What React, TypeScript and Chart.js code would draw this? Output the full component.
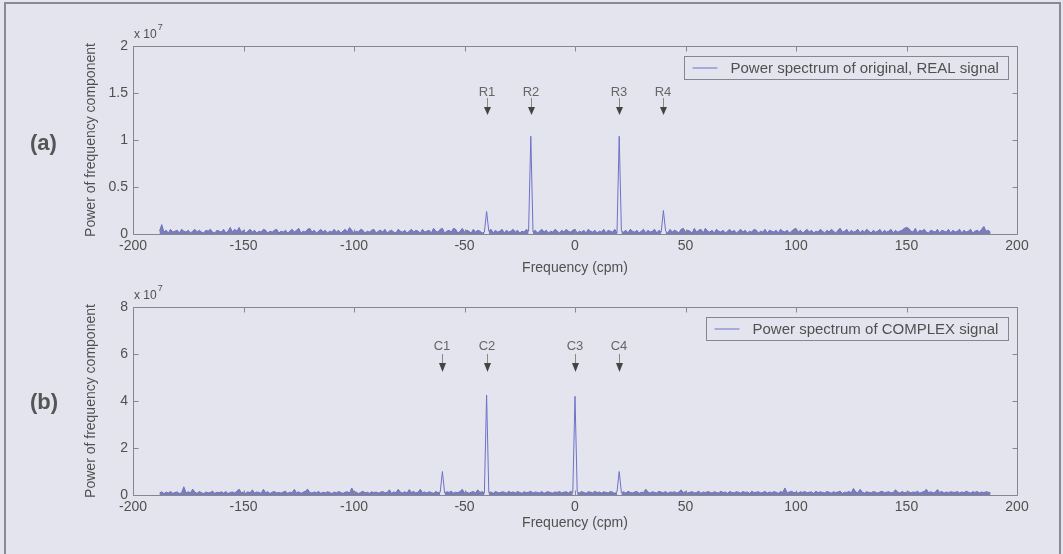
import React, { useEffect, useRef } from "react";
import { Chart, registerables } from "chart.js";

Chart.register(...registerables);

// ---------- DATA ----------
const FREQ_START = -188; // cpm, first spectral bin
const FREQ_STEP = 1; // cpm between bins

const X_TICKS = [-200, -150, -100, -50, 0, 50, 100, 150, 200];
const REAL_Y_TICKS = [0, 0.5, 1, 1.5, 2]; // x 10^7
const COMPLEX_Y_TICKS = [0, 2, 4, 6, 8]; // x 10^7

// power in units of 1e5 (i.e. 100 = 0.1 x 10^7 ... 104 = 1.04 x 10^7)
const REAL_POWER_E5 = [
  3, 10, 2, 4, 1, 5, 2, 3, 4, 1, 5, 3, 2, 4, 1, 3, 5, 2, 4, 2,
  1, 4, 3, 5, 2, 1, 4, 3, 2, 5, 1, 3, 7, 2, 5, 3, 7, 2, 4, 1,
  3, 5, 2, 4, 1, 3, 2, 5, 4, 1, 3, 2, 4, 5, 1, 3, 2, 4, 1, 3,
  5, 2, 4, 6, 1, 3, 2, 5, 6, 2, 4, 1, 3, 5, 2, 4, 1, 3, 2, 5,
  2, 4, 1, 3, 5, 2, 7, 4, 1, 3, 2, 5, 4, 1, 3, 2, 4, 5, 1, 3,
  4, 2, 5, 1, 3, 4, 2, 1, 5, 3, 2, 4, 1, 3, 5, 2, 4, 3, 1, 5,
  2, 3, 4, 1, 6, 3, 2, 5, 6, 1, 3, 4, 2, 6, 5, 1, 3, 6, 2, 4,
  3, 1, 5, 2, 4, 3, 1, 2, 24, 3, 5, 1, 4, 2, 3, 5, 1, 4, 2, 3,
  5, 2, 4, 1, 3, 2, 5, 3, 104, 2, 4, 1, 3, 5, 2, 4, 1, 3, 2, 5,
  3, 1, 4, 2, 5, 3, 2, 4, 5, 1, 3, 2, 4, 1, 5, 3, 2, 4, 1, 3,
  2, 5, 1, 4, 3, 2, 5, 1, 104, 3, 2, 4, 1, 5, 3, 2, 4, 1, 3, 5,
  1, 4, 2, 3, 5, 1, 4, 2, 25, 3, 1, 5, 2, 4, 3, 1, 5, 6, 2, 4,
  3, 1, 6, 2, 4, 5, 1, 6, 3, 2, 4, 1, 5, 3, 2, 4, 1, 3, 5, 2,
  4, 1, 3, 5, 2, 4, 1, 3, 2, 5, 4, 1, 3, 2, 5, 1, 4, 3, 2, 4,
  1, 5, 3, 2, 4, 1, 3, 5, 6, 2, 4, 1, 3, 5, 2, 4, 1, 3, 2, 5,
  3, 1, 4, 2, 5, 3, 1, 4, 6, 2, 3, 5, 1, 4, 2, 3, 5, 1, 4, 2,
  5, 3, 1, 4, 2, 3, 5, 1, 4, 2, 3, 5, 1, 4, 2, 3, 4, 6, 7, 6,
  3, 2, 6, 1, 4, 3, 5, 2, 1, 4, 3, 2, 5, 1, 4, 3, 2, 5, 1, 4,
  2, 3, 5, 1, 4, 2, 3, 5, 1, 3, 4, 2, 5, 8, 3, 4, 2,
];

const COMPLEX_POWER_E5 = [
  8, 14, 6, 12, 9, 15, 7, 11, 13, 6, 10, 35, 8, 14, 9, 25, 12, 7, 15, 10,
  6, 13, 9, 11, 16, 7, 12, 10, 14, 8, 15, 6, 11, 13, 9, 16, 25, 10, 12, 7,
  14, 9, 22, 8, 13, 11, 7, 24, 10, 14, 6, 12, 15, 9, 11, 8, 13, 16, 7, 12,
  10, 24, 9, 14, 7, 12, 16, 25, 11, 8, 13, 10, 15, 7, 12, 9, 14, 11, 6, 13,
  9, 15, 11, 7, 12, 14, 8, 30, 10, 13, 6, 11, 16, 9, 12, 7, 14, 10, 13, 8,
  12, 15, 9, 11, 22, 7, 13, 10, 24, 12, 9, 14, 8, 23, 11, 15, 9, 12, 24, 10,
  13, 8, 14, 11, 7, 15, 10, 12, 100, 9, 14, 11, 16, 8, 12, 10, 15, 24, 9, 13,
  7, 12, 15, 9, 22, 11, 14, 8, 425, 10, 13, 7, 15, 11, 9, 14, 12, 8, 16, 10,
  13, 9, 15, 11, 7, 14, 10, 12, 16, 8, 13, 11, 9, 15, 7, 12, 14, 10, 8, 13,
  11, 15, 9, 12, 14, 8, 16, 10, 420, 13, 9, 15, 11, 7, 14, 12, 9, 16, 10, 13,
  8, 14, 11, 9, 15, 12, 7, 13, 100, 10, 14, 8, 16, 11, 9, 13, 15, 7, 12, 10,
  25, 13, 8, 14, 11, 9, 16, 12, 10, 15, 7, 13, 11, 14, 9, 12, 22, 10, 15, 8,
  12, 14, 9, 11, 16, 7, 13, 10, 15, 12, 8, 14, 11, 9, 16, 10, 13, 7, 15, 11,
  9, 14, 12, 8, 15, 11, 13, 7, 16, 10, 12, 14, 9, 11, 15, 8, 13, 10, 14, 12,
  7, 15, 11, 30, 9, 13, 16, 10, 12, 8, 14, 11, 15, 9, 12, 13, 7, 16, 10, 14,
  11, 9, 15, 12, 8, 14, 10, 13, 16, 7, 12, 11, 15, 9, 28, 13, 10, 24, 12, 8,
  14, 11, 9, 15, 12, 8, 13, 16, 10, 12, 14, 9, 11, 22, 13, 8, 15, 10, 12, 14,
  9, 13, 11, 16, 8, 12, 15, 24, 10, 14, 9, 12, 23, 11, 15, 8, 13, 10, 14, 12,
  11, 15, 9, 13, 10, 16, 12, 8, 14, 11, 15, 9, 13, 10, 14, 12, 9,
];

const REAL_MARKER_LABELS = ["R1", "R2", "R3", "R4"];
const REAL_MARKER_FREQS = [-40, -20, 20, 40];
const COMPLEX_MARKER_LABELS = ["C1", "C2", "C3", "C4"];
const COMPLEX_MARKER_FREQS = [-60, -40, 0, 20];

const REAL_LEGEND = "Power spectrum of original, REAL signal";
const COMPLEX_LEGEND = "Power spectrum of COMPLEX signal";
const X_TITLE = "Frequency (cpm)";
const Y_TITLE = "Power of frequency component";

// ---------- STYLE ----------
const W = 1063;
const H = 277;
const BG = "#e4e4ee";
const AXIS = "#86868e";
const TEXT = "#505050";
const LINE = "#6c71c8";
const FILL = "rgba(88,92,160,0.75)";
const FONT = "'Liberation Sans', Arial, sans-serif";

type PanelCfg = {
  top: number;
  values: number[];
  yMax: number;
  yTicks: number[];
  legend: string;
  markerLabels: string[];
  markerFreqs: number[];
  tag: string;
  padTop: number;
  padBottom: number;
  markerTextY: number;
  arrowTop: number;
  arrowHeadTop: number;
  arrowBottom: number;
  xTitleY: number;
  tagY: number;
};

function Panel(p: PanelCfg) {
  const ref = useRef<HTMLCanvasElement>(null);
  useEffect(() => {
    const canvas = ref.current!;
    const points = p.values.map((v, i) => ({ x: FREQ_START + i * FREQ_STEP, y: v / 100 }));
    const fillLimit = p.yMax * 0.08;

    const decor = {
      id: "decor",
      afterDraw(chart: any) {
        const ctx: CanvasRenderingContext2D = chart.ctx;
        const { left, right, top, bottom } = chart.chartArea;
        const xs = chart.scales.x;
        const ys = chart.scales.y;
        ctx.save();
        // box
        ctx.strokeStyle = AXIS;
        ctx.lineWidth = 1;
        const L = Math.round(left) + 0.5;
        const R = Math.round(right) + 0.5;
        const T = Math.round(top) + 0.5;
        const B = Math.round(bottom) + 0.5;
        ctx.beginPath();
        ctx.moveTo(L, T);
        ctx.lineTo(R, T);
        ctx.lineTo(R, B);
        ctx.lineTo(L, B);
        ctx.closePath();
        ctx.stroke();
        // inward ticks
        ctx.beginPath();
        X_TICKS.forEach((v) => {
          const x = Math.round(xs.getPixelForValue(v)) + 0.5;
          ctx.moveTo(x, B);
          ctx.lineTo(x, B - 5);
          ctx.moveTo(x, T);
          ctx.lineTo(x, T + 5);
        });
        p.yTicks.forEach((v) => {
          const y = Math.round(ys.getPixelForValue(v)) + 0.5;
          ctx.moveTo(L, y);
          ctx.lineTo(L + 5, y);
          ctx.moveTo(R, y);
          ctx.lineTo(R - 5, y);
        });
        ctx.stroke();

        // exponent label
        ctx.fillStyle = TEXT;
        ctx.textBaseline = "alphabetic";
        ctx.textAlign = "left";
        ctx.font = `12px ${FONT}`;
        const ex = left + 1;
        ctx.fillText("x 10", ex, top - 8);
        const ew = ctx.measureText("x 10").width;
        ctx.font = `9px ${FONT}`;
        ctx.fillText("7", ex + ew + 1, top - 16);

        // axis titles
        ctx.font = `14px ${FONT}`;
        ctx.textAlign = "center";
        ctx.textBaseline = "middle";
        ctx.fillText(X_TITLE, (left + right) / 2, p.xTitleY);
        ctx.save();
        ctx.translate(91, (top + bottom) / 2);
        ctx.rotate(-Math.PI / 2);
        ctx.fillText(Y_TITLE, 0, 0);
        ctx.restore();

        // panel tag
        ctx.font = `bold 22px ${FONT}`;
        ctx.textAlign = "left";
        ctx.fillStyle = "#555";
        ctx.fillText(p.tag, 30, p.tagY);

        // legend
        ctx.font = `15px ${FONT}`;
        const tw = ctx.measureText(p.legend).width;
        const bw = Math.round(46 + tw + 10);
        const bh = 23;
        const bx = Math.round(right - 9 - bw) + 0.5;
        const by = Math.round(top + 10) + 0.5;
        ctx.fillStyle = BG;
        ctx.fillRect(bx, by, bw, bh);
        ctx.strokeStyle = AXIS;
        ctx.strokeRect(bx, by, bw, bh);
        ctx.strokeStyle = LINE;
        ctx.beginPath();
        ctx.moveTo(bx + 8, by + bh / 2);
        ctx.lineTo(bx + 33, by + bh / 2);
        ctx.stroke();
        ctx.fillStyle = TEXT;
        ctx.textAlign = "left";
        ctx.textBaseline = "middle";
        ctx.fillText(p.legend, bx + 46, by + bh / 2 + 1);

        // peak markers
        p.markerFreqs.forEach((f, i) => {
          const x = Math.round(xs.getPixelForValue(f));
          ctx.font = `13px ${FONT}`;
          ctx.fillStyle = "#666";
          ctx.textAlign = "center";
          ctx.textBaseline = "middle";
          ctx.fillText(p.markerLabels[i], x, p.markerTextY);
          ctx.strokeStyle = "#888";
          ctx.lineWidth = 1;
          ctx.beginPath();
          ctx.moveTo(x + 0.5, p.arrowTop);
          ctx.lineTo(x + 0.5, p.arrowHeadTop);
          ctx.stroke();
          ctx.fillStyle = "#444";
          ctx.beginPath();
          ctx.moveTo(x + 0.5 - 3.5, p.arrowHeadTop);
          ctx.lineTo(x + 0.5 + 3.5, p.arrowHeadTop);
          ctx.lineTo(x + 0.5, p.arrowBottom);
          ctx.closePath();
          ctx.fill();
        });
        ctx.restore();
      },
    };

    const tickFont = { family: FONT, size: 14 };
    const chart = new Chart(canvas, {
      type: "line",
      data: {
        datasets: [
          {
            data: points,
            borderColor: LINE,
            backgroundColor: FILL,
            borderWidth: 1,
            pointRadius: 0,
            tension: 0,
            fill: "origin",
            segment: {
              backgroundColor: (c: any) =>
                c.p0.parsed.y > fillLimit || c.p1.parsed.y > fillLimit ? "rgba(0,0,0,0)" : FILL,
            },
          },
        ],
      },
      options: {
        animation: false,
        responsive: false,
        devicePixelRatio: 1,
        layout: { padding: { left: 0, right: 46, top: p.padTop, bottom: p.padBottom } },
        plugins: { legend: { display: false }, tooltip: { enabled: false }, filler: { propagate: false } },
        scales: {
          x: {
            type: "linear",
            min: -200,
            max: 200,
            afterBuildTicks: (s: any) => {
              s.ticks = X_TICKS.map((v) => ({ value: v }));
            },
            afterFit: (s: any) => {
              s.height = 30;
            },
            ticks: {
              font: tickFont,
              color: TEXT,
              padding: 4,
              maxRotation: 0,
              autoSkip: false,
              callback: (v: any) => String(v),
            },
            grid: { display: false, drawTicks: false },
            border: { display: false },
          },
          y: {
            type: "linear",
            min: 0,
            max: p.yMax,
            afterBuildTicks: (s: any) => {
              s.ticks = p.yTicks.map((v) => ({ value: v }));
            },
            afterFit: (s: any) => {
              s.width = 133;
            },
            ticks: {
              font: tickFont,
              color: TEXT,
              padding: 5,
              autoSkip: false,
              callback: (v: any) => String(v),
            },
            grid: { display: false, drawTicks: false },
            border: { display: false },
          },
        },
      } as any,
      plugins: [decor],
    });
    return () => chart.destroy();
  }, []);
  return (
    <canvas
      ref={ref}
      width={W}
      height={H}
      style={{ position: "absolute", left: 0, top: p.top, width: W, height: H, display: "block" }}
    />
  );
}

export default function App() {
  return (
    <div
      style={{
        position: "fixed",
        left: 0,
        top: 0,
        width: W,
        height: 554,
        background: BG,
        overflow: "hidden",
      }}
    >
      <div
        style={{
          position: "absolute",
          left: 4,
          top: 2,
          width: 1053,
          height: 560,
          borderLeft: "2px solid #8a8a92",
          borderTop: "2px solid #8a8a92",
          borderRight: "2px solid #8a8a92",
        }}
      />
      <Panel
        top={0}
        values={REAL_POWER_E5}
        yMax={2}
        yTicks={REAL_Y_TICKS}
        legend={REAL_LEGEND}
        markerLabels={REAL_MARKER_LABELS}
        markerFreqs={REAL_MARKER_FREQS}
        tag="(a)"
        padTop={46}
        padBottom={13}
        markerTextY={92}
        arrowTop={98}
        arrowHeadTop={107}
        arrowBottom={115}
        xTitleY={268}
        tagY={144}
      />
      <Panel
        top={277}
        values={COMPLEX_POWER_E5}
        yMax={8}
        yTicks={COMPLEX_Y_TICKS}
        legend={COMPLEX_LEGEND}
        markerLabels={COMPLEX_MARKER_LABELS}
        markerFreqs={COMPLEX_MARKER_FREQS}
        tag="(b)"
        padTop={30}
        padBottom={29}
        markerTextY={69}
        arrowTop={77}
        arrowHeadTop={86}
        arrowBottom={95}
        xTitleY={246}
        tagY={126}
      />
    </div>
  );
}
